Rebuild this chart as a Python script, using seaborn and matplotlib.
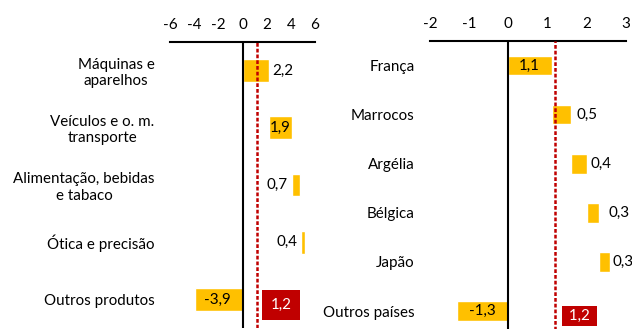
import matplotlib
matplotlib.use("Agg")
import matplotlib.pyplot as plt
import seaborn as sns
import numpy as np
import pandas as pd

# ---------------- data ----------------
prod_categories = ["Máquinas e\naparelhos", "Veículos e o. m.\ntransporte",
                   "Alimentação, bebidas\ne tabaco", "Ótica e precisão", "Outros produtos"]
prod_values = [2.2, 1.9, 0.7, 0.4, -3.9]
prod_total = 1.2
prod_ticks = [-6, -4, -2, 0, 2, 4, 6]

country_categories = ["França", "Marrocos", "Argélia", "Bélgica", "Japão", "Outros países"]
country_values = [1.1, 0.5, 0.4, 0.3, 0.3, -1.3]
country_total = 1.2
country_ticks = [-2, -1, 0, 1, 2, 3]

# ---------------- style ----------------
YELLOW = "#FFC000"
RED = "#C00000"
FONT = "Lato"
FS = 10.9

sns.set_theme(style="white")
plt.rcParams["font.family"] = [FONT, "DejaVu Sans"]

fig = plt.figure(figsize=(6.32, 3.29), dpi=100)

def fmt(v):
    return f"{v:.1f}".replace(".", ",")

def panel(ax, cats, vals, total, ticks, label_x, total_x, total_pad, total_text):
    df = pd.DataFrame({"cat": cats, "val": vals})
    sns.barplot(data=df, x="val", y="cat", orient="h", color=YELLOW,
                saturation=1, width=0.4, ax=ax, errorbar=None)
    # waterfall: positive contributions stack, negatives start at zero
    cum = 0.0
    for p, v in zip(ax.patches, vals):
        if v >= 0:
            p.set_x(cum)
            cum += v
        else:
            p.set_x(0)
    ax.set_xlim(ticks[0], ticks[-1])
    ax.set_xticks(ticks)
    ax.set_xticklabels([str(t) for t in ticks])
    ax.xaxis.tick_top()
    ax.tick_params(axis="x", length=0, pad=7, labelsize=FS, colors="black")
    ax.tick_params(axis="y", length=0, pad=11, labelsize=FS, colors="black")
    for lab in ax.get_yticklabels():
        lab.set_multialignment("center")
    ax.set_xlabel("")
    ax.set_ylabel("")
    for s in ["left", "right", "bottom"]:
        ax.spines[s].set_visible(False)
    ax.spines["top"].set_visible(True)
    ax.spines["top"].set_color("black")
    ax.spines["top"].set_linewidth(1.5)
    ax.axvline(0, color="black", lw=1.5, zorder=1)
    ax.axvline(total, color=RED, lw=1.8, ls=(0, (1.5, 0.8)), zorder=5)
    for i, v in enumerate(vals):
        ax.text(label_x[i], i, fmt(v), ha="center", va="center",
                fontsize=FS, color="black", zorder=6)
    ax.text(total_x, len(vals) - 1 + 0.1, total_text, ha="center", va="center",
            fontsize=FS, color="white", zorder=7,
            bbox=dict(boxstyle=f"square,pad={total_pad}", fc=RED, ec="none"))

ax1 = fig.add_axes([170 / 632, 1 - 328 / 329, 145 / 632, (328 - 42) / 329])
panel(ax1, prod_categories, prod_values, prod_total, prod_ticks,
      label_x=[3.3, 3.15, 2.9, 3.67, -2.05], total_x=3.17, total_pad=0.55,
      total_text=fmt(prod_total))

ax2 = fig.add_axes([430 / 632, 1 - 335.6 / 329, 196 / 632, (335.6 - 41) / 329])
panel(ax2, country_categories, country_values, country_total, country_ticks,
      label_x=[0.53, 2.0, 2.35, 2.83, 2.93, -0.66], total_x=1.81, total_pad=0.22,
      total_text=" " + fmt(country_total) + " ")

fig.savefig("out.png", dpi=100)
